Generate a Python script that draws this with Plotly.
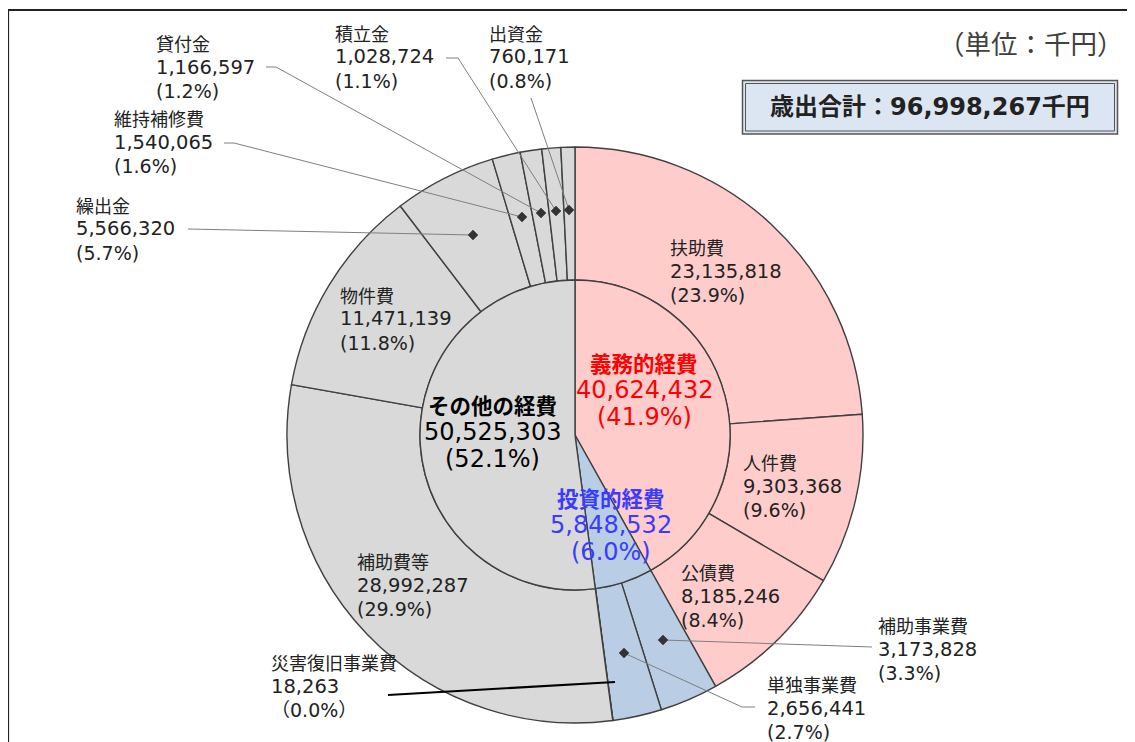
import plotly.graph_objects as go

# ---------------- data ----------------
inner_labels = ["義務的経費", "投資的経費", "その他の経費"]
inner_values = [40624432, 5848532, 50525303]

outer_labels = ["扶助費", "人件費", "公債費", "補助事業費", "単独事業費", "災害復旧事業費",
                "補助費等", "物件費", "繰出金", "維持補修費", "貸付金", "積立金", "出資金"]
outer_values = [23135818, 9303368, 8185246, 3173828, 2656441, 18263,
                28992287, 11471139, 5566320, 1540065, 1166597, 1028724, 760171]
outer_group = [0, 0, 0, 1, 1, 1, 2, 2, 2, 2, 2, 2, 2]

total_label = "歳出合計"
unit_label = "（単位：千円）"

# ---------------- styles / layout ----------------
W, H = 1135, 742
OFF = 8  # page body margin in the browser
CX, CY = 575, 435
R_OUT, R_IN = 288, 155

group_colors = ["#FFCCCC", "#B9CDE5", "#D9D9D9"]
inner_text_colors = ["#FF0000", "#3B3BFF", "#000000"]
LINE = "#404040"
TXT = "#222222"
NUMFONT = "DejaVu Sans, Noto Sans CJK JP"
JPFONT = "Noto Sans CJK JP"

total = sum(outer_values)


def px(x):
    return (x - OFF) / W


def py(y):
    return 1 - (y - OFF) / H


fig = go.Figure()

fig.add_trace(go.Pie(
    values=outer_values, labels=outer_labels, sort=False, direction="clockwise",
    rotation=0, hole=R_IN / R_OUT, textinfo="none", showlegend=False,
    marker=dict(colors=[group_colors[g] for g in outer_group], line=dict(color=LINE, width=1.4)),
    domain=dict(x=[px(CX - R_OUT - 15), px(CX + R_OUT + 15)], y=[py(CY + R_OUT), py(CY - R_OUT)]),
))
fig.add_trace(go.Pie(
    values=inner_values, labels=inner_labels, sort=False, direction="clockwise",
    rotation=0, textinfo="none", showlegend=False,
    marker=dict(colors=group_colors, line=dict(color=LINE, width=1.4)),
    domain=dict(x=[px(CX - R_IN - 15), px(CX + R_IN + 15)], y=[py(CY + R_IN), py(CY - R_IN)]),
))

annotations = []
shapes = []


def fmt_pct(label, v):
    p = v / total * 100
    if label == "災害復旧事業費":
        return f"（{p:.1f}%）"
    return f"({p:.1f}%)"


# outer label positions (left x, y of first line)
outer_pos = {
    "扶助費": (668, 247), "人件費": (741, 462), "公債費": (679, 572),
    "補助事業費": (876, 625), "単独事業費": (765, 684), "災害復旧事業費": (269, 662),
    "補助費等": (355, 561), "物件費": (338, 295), "繰出金": (74, 205),
    "維持補修費": (112, 118), "貸付金": (154, 43), "積立金": (333, 33), "出資金": (487, 33),
}
for lab, v in zip(outer_labels, outer_values):
    x, y = outer_pos[lab]
    lines = [(lab, JPFONT, 18), (f"{v:,}", NUMFONT, 19.5), (fmt_pct(lab, v), NUMFONT, 19)]
    for i, (t, f, s) in enumerate(lines):
        annotations.append(dict(x=px(x), y=py(y + i * 24), xref="paper", yref="paper",
                                text=t, showarrow=False, xanchor="left", yanchor="middle",
                                font=dict(family=f, size=s, color=TXT)))

inner_pos = {"義務的経費": (644, 362), "投資的経費": (611, 497), "その他の経費": (492, 404)}
for lab, v, c in zip(inner_labels, inner_values, inner_text_colors):
    x, y = inner_pos[lab]
    lines = [(f"<b>{lab}</b>", JPFONT, 21.5), (f"{v:,}", NUMFONT, 24), (f"({v / total * 100:.1f}%)", NUMFONT, 24)]
    for i, (t, f, s) in enumerate(lines):
        annotations.append(dict(x=px(x), y=py(y + i * 27.5), xref="paper", yref="paper",
                                text=t, showarrow=False, xanchor="center", yanchor="middle",
                                font=dict(family=f, size=s, color=c)))

# leader lines
leaders = {
    "貸付金": [(266, 67), (276, 67), (541, 213)],
    "積立金": [(446, 58), (458, 58), (556, 211)],
    "出資金": [(531, 98), (569, 210)],
    "維持補修費": [(224, 143), (234, 143), (522, 217)],
    "繰出金": [(188, 229), (473, 235)],
    "補助事業費": [(872, 647), (663, 640)],
    "単独事業費": [(755, 707), (742, 707), (624, 653)],
}
for lab, pts in leaders.items():
    path = "M " + " L ".join(f"{px(x)},{py(y)}" for x, y in pts)
    shapes.append(dict(type="path", path=path, xref="paper", yref="paper",
                       line=dict(color="#7F7F7F", width=1), layer="above"))
markers = [(541, 213), (556, 211), (569, 210), (522, 217), (473, 235), (663, 640), (624, 653)]
d = 5
for x, y in markers:
    path = (f"M {px(x)},{py(y - d)} L {px(x + d)},{py(y)} L {px(x)},{py(y + d)} "
            f"L {px(x - d)},{py(y)} Z")
    shapes.append(dict(type="path", path=path, xref="paper", yref="paper",
                       fillcolor="#333333", line=dict(color="#333333", width=0.5), layer="above"))
# thick leader for disaster recovery
shapes.append(dict(type="line", x0=px(388), y0=py(695), x1=px(615), y1=py(682), xref="paper",
                   yref="paper", line=dict(color="#000000", width=2.2), layer="above"))

# frame
shapes.append(dict(type="rect", x0=px(8), y0=py(10), x1=px(1160), y1=py(770), xref="paper",
                   yref="paper", line=dict(color="#222222", width=2.2), layer="above"))
# total box
shapes.append(dict(type="rect", x0=px(742.5), y0=py(80.5), x1=px(1117.5), y1=py(134), xref="paper",
                   yref="paper", line=dict(color="#555555", width=1.5), fillcolor="#DCE6F2", layer="below"))
shapes.append(dict(type="rect", x0=px(745.5), y0=py(83.5), x1=px(1114.5), y1=py(131), xref="paper",
                   yref="paper", line=dict(color="#555555", width=1), layer="above"))

annotations.append(dict(x=px(930), y=py(107), xref="paper", yref="paper",
                        text=f"<b>{total_label}：{total:,}千円</b>", showarrow=False,
                        xanchor="center", yanchor="middle",
                        font=dict(family=NUMFONT, size=24, color="#222222")))
annotations.append(dict(x=px(1126), y=py(43), xref="paper", yref="paper", text=unit_label,
                        showarrow=False, xanchor="right", yanchor="middle",
                        font=dict(family=JPFONT, size=26.5, color="#404040")))

fig.update_layout(
    width=W, height=H, margin=dict(l=0, r=0, t=0, b=0),
    paper_bgcolor="white", plot_bgcolor="white",
    annotations=annotations, shapes=shapes, showlegend=False,
)

fig.write_html("out.html")
